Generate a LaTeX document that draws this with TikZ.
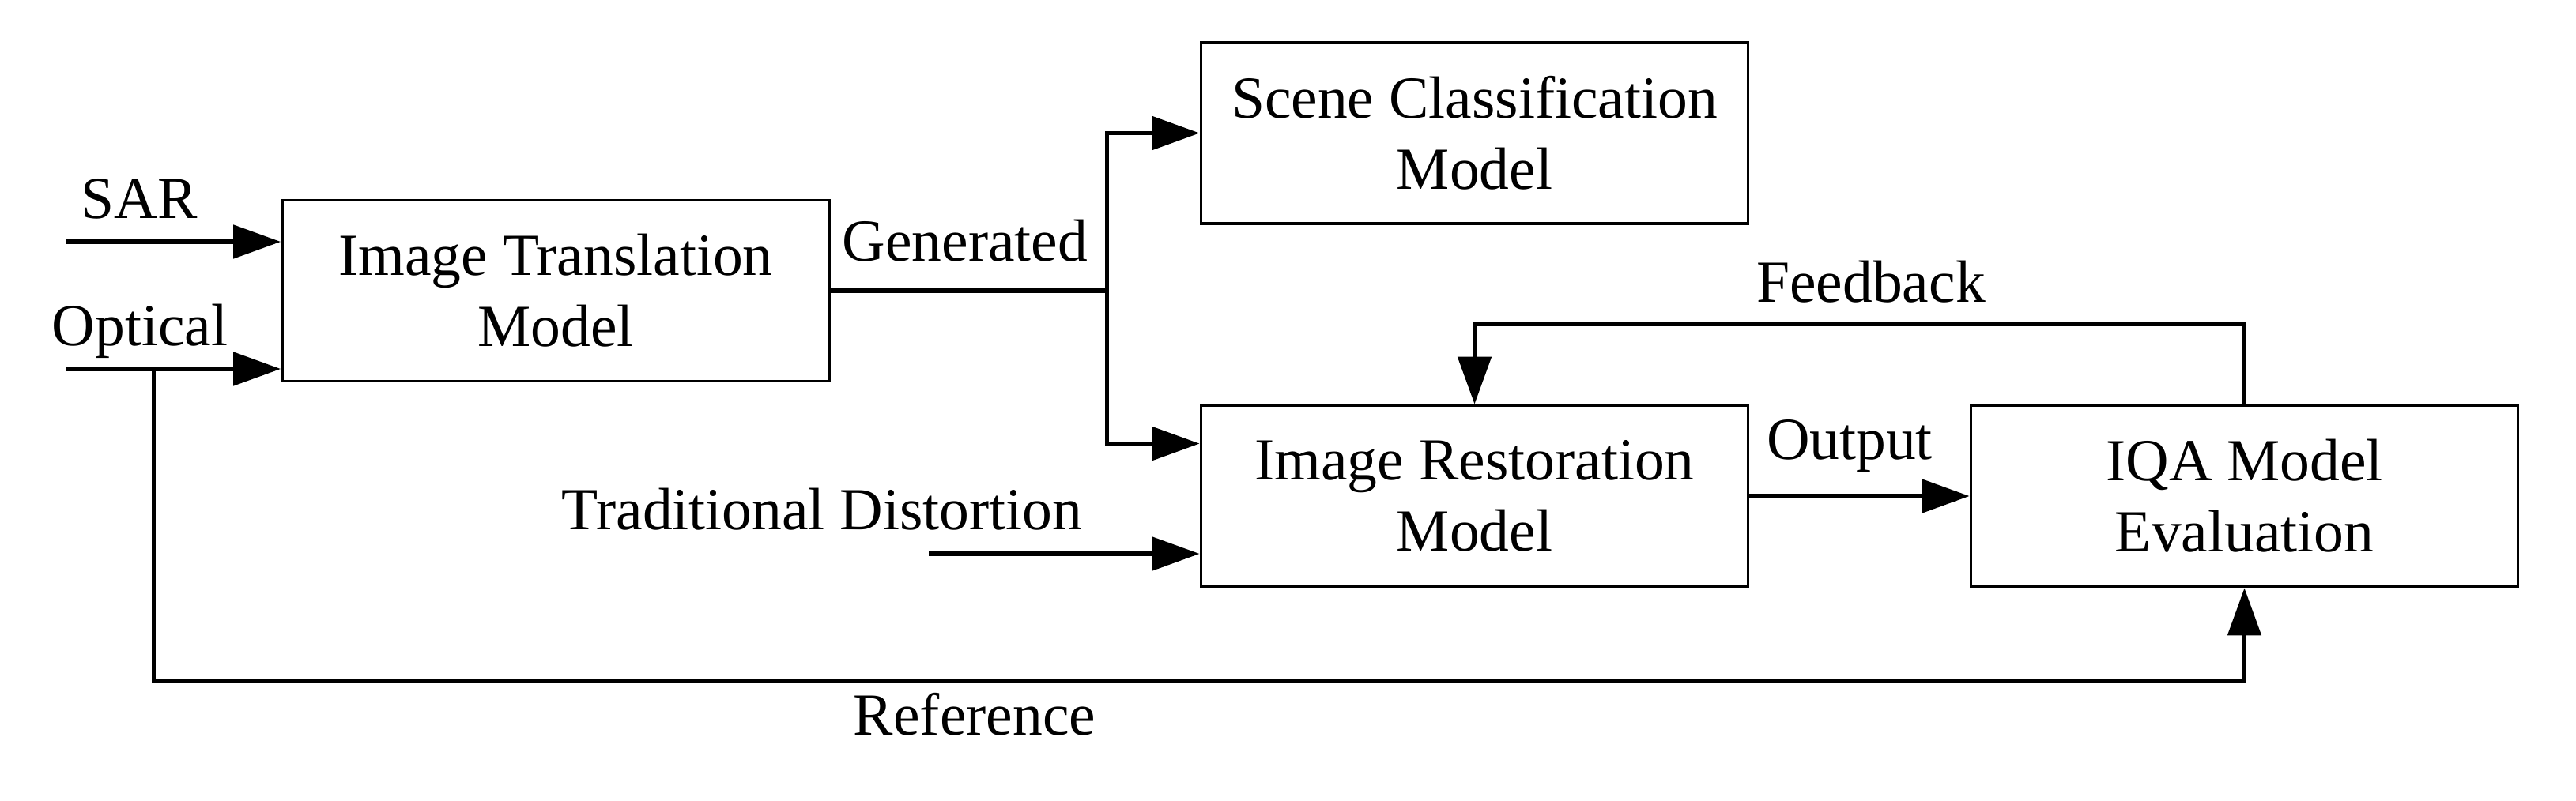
\documentclass[tikz,border=0pt]{standalone}
\usepackage{fontspec}
\setmainfont{Liberation Serif}
\usetikzlibrary{arrows.meta}
\begin{document}
\begin{tikzpicture}[
  lw/.style={line width=1.45pt},
  txt/.style={font=\fontsize{21.5}{25.6}\selectfont},
  blk/.style={draw, line width=1.1pt, rectangle, minimum width=6.92cm, minimum height=2.29cm, align=center, inner sep=0pt, txt},
  lbl/.style={anchor=base, inner sep=0pt, txt},
  arr/.style={lw, -{Triangle[length=0.6cm,width=0.42cm]}},
  ln/.style={lw}
]
\useasboundingbox (0,0) rectangle (32.59,-10.13);
% blocks
\node[blk] (itm)   at (7.03,-3.68)   {Image Translation\\Model};
\node[blk] (scene) at (18.655,-1.685) {Scene Classification\\Model};
\node[blk] (rest)  at (18.655,-6.28) {Image Restoration\\Model};
\node[blk] (iqa)   at (28.395,-6.28) {IQA Model\\Evaluation};
% free ends
\coordinate (sarin) at (0.83,-3.06);
\coordinate (optin) at (0.83,-4.67);
\coordinate (optbr) at (1.945,-4.67);
\coordinate (refcorner) at (1.945,-8.62);
\coordinate (gsplit) at (14.005,-3.68);
\coordinate (tdin) at (11.75,-7.01);
% connectors
\draw[arr] (sarin) -- (sarin -| itm.west);
\draw[arr] (optin) -- (optin -| itm.west);
\draw[arr] (optbr) -- (refcorner) -| (iqa.south);
\draw[ln] (itm.east) -- (gsplit);
\draw[arr] (gsplit) |- (scene.west);
\draw[arr] (gsplit) |- ([yshift=-0.5cm]rest.north west);
\draw[arr] (tdin) -- (tdin -| rest.west);
\draw[arr] (rest.east) -- (iqa.west);
\draw[arr] (iqa.north) -- ++(0,1.01) -| (rest.north);
% labels
\node[lbl] (lsar) at (1.76,-2.76) {SAR};
\node[lbl] (lopt) at (1.77,-4.37) {Optical};
\node[lbl] (lgen) at (12.21,-3.30) {Generated};
\node[lbl] (lfb)  at (23.67,-3.82) {Feedback};
\node[lbl] (lout) at (23.40,-5.81) {Output};
\node[lbl] (ltd)  at (10.40,-6.70) {Traditional Distortion};
\node[lbl] (lref) at (12.33,-9.30) {Reference};
\end{tikzpicture}
\end{document}
